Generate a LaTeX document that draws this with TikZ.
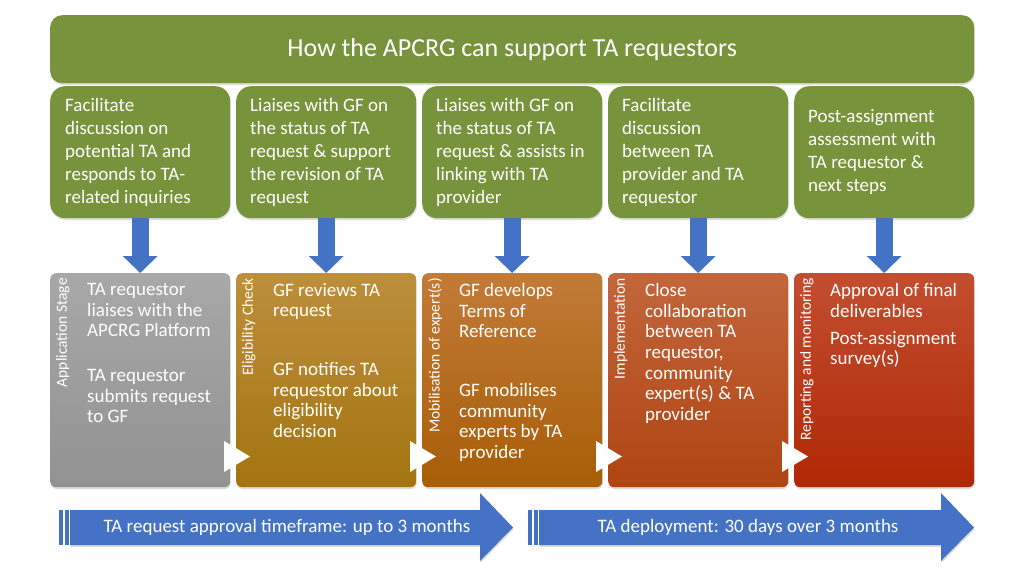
\documentclass[tikz,border=0pt]{standalone}
\usepackage{fontspec}
\setmainfont{Carlito}
\usetikzlibrary{arrows.meta,shadows,calc}
\definecolor{hdgreen}{HTML}{77933C}
\definecolor{arblue}{HTML}{4472C4}
\definecolor{grayT}{HTML}{A8A8A8}\definecolor{grayB}{HTML}{929292}
\definecolor{goldT}{HTML}{BE8F3C}\definecolor{goldB}{HTML}{A37410}
\definecolor{orT}{HTML}{C27B38}\definecolor{orB}{HTML}{A85D06}
\definecolor{roT}{HTML}{C2663C}\definecolor{roB}{HTML}{B04412}
\definecolor{rdT}{HTML}{C24E30}\definecolor{rdB}{HTML}{B02806}
\begin{document}
\begin{tikzpicture}[x=1pt,y=-1pt,
  softshadow/.style={drop shadow={shadow xshift=0.6pt,shadow yshift=-1.8pt,opacity=0.28}},
  header/.style={fill=hdgreen,rounded corners=12pt,softshadow,minimum width=924pt,minimum height=68pt,inner sep=0pt,anchor=north west},
  greenbox/.style={fill=hdgreen,rounded corners=15pt,softshadow,minimum width=180pt,minimum height=132pt,inner sep=0pt,anchor=north west},
  gtext/.style={text=white,font=\fontsize{19}{23}\selectfont,align=left,inner sep=0pt,anchor=west},
  stagebox/.style={rounded corners=6pt,softshadow,minimum width=180pt,minimum height=214pt,inner sep=0pt,anchor=north west},
  btext/.style={text=white,font=\fontsize{19}{20.7}\selectfont,align=left,inner sep=0pt,anchor=north west},
  vlabel/.style={text=white,font=\fontsize{15.5}{17}\selectfont,rotate=90,inner sep=0pt,anchor=north east},
  downarrow/.style={draw=arblue,line width=17pt,-{Triangle[width=34pt,length=17pt]}},
  bigarrow/.style={fill=arblue,softshadow},
  atext/.style={text=white,font=\fontsize{19}{22}\selectfont,inner sep=0pt}
]
\useasboundingbox (0,0) rectangle (1024,576);

% header
\node[header] (hd) at (50,15) {};
\node[text=white,font=\fontsize{26}{30}\selectfont,inner sep=0pt] (hdt) at (hd.center) {How the APCRG can support TA requestors};

% green boxes
\node[greenbox] (g1) at (50,86) {};
\node[greenbox] (g2) at (236,86) {};
\node[greenbox] (g3) at (422,86) {};
\node[greenbox] (g4) at (608,86) {};
\node[greenbox] (g5) at (794,86) {};
\node[gtext] (gt1) at ($(g1.west)+(15,0)$) {Facilitate\\discussion on\\potential TA and\\responds to TA-\\related inquiries};
\node[gtext] (gt2) at ($(g2.west)+(14,0)$) {Liaises with GF on\\the status of TA\\request \& support\\the revision of TA\\request};
\node[gtext] (gt3) at ($(g3.west)+(14,0)$) {Liaises with GF on\\the status of TA\\request \& assists in\\linking with TA\\provider};
\node[gtext] (gt4) at ($(g4.west)+(14,0)$) {Facilitate\\discussion\\between TA\\provider and TA\\requestor};
\node[gtext] (gt5) at ($(g5.west)+(14,0)$) {Post-assignment\\assessment with\\TA requestor \&\\next steps};

% stage boxes
\node[stagebox,top color=grayT,bottom color=grayB] (b1) at (50,273) {};
\node[stagebox,top color=goldT,bottom color=goldB] (b2) at (236,273) {};
\node[stagebox,top color=orT,bottom color=orB] (b3) at (422,273) {};
\node[stagebox,top color=roT,bottom color=roB] (b4) at (608,273) {};
\node[stagebox,top color=rdT,bottom color=rdB] (b5) at (794,273) {};

% down arrows
\draw[downarrow] (g1.south) -- (b1.north);
\draw[downarrow] (g2.south) -- (b2.north);
\draw[downarrow] (g3.south) -- (b3.north);
\draw[downarrow] (g4.south) -- (b4.north);
\draw[downarrow] (g5.south) -- (b5.north);

% vertical labels
\node[vlabel] (v1) at (56,278) {Application Stage};
\node[vlabel] (v2) at (242,278) {Eligibility Check};
\node[vlabel] (v3) at (428,278) {Mobilisation of expert(s)};
\node[vlabel] (v4) at (614,278) {Implementation};
\node[vlabel] (v5) at (800,278) {Reporting and monitoring};

% stage texts
\node[btext] (t1a) at (87,283) {TA requestor\\liaises with the\\APCRG Platform};
\node[btext] (t1b) at (87,369) {TA requestor\\submits request\\to GF};
\node[btext] (t2a) at (273,283) {GF reviews TA\\request};
\node[btext] (t2b) at (273,362) {GF notifies TA\\requestor about\\eligibility\\decision};
\node[btext] (t3a) at (459,283) {GF develops\\Terms of\\Reference};
\node[btext] (t3b) at (459,383) {GF mobilises\\community\\experts by TA\\provider};
\node[btext] (t4a) at (645,283) {Close\\collaboration\\between TA\\requestor,\\community\\expert(s) \& TA\\provider};
\node[btext] (t5a) at (830,283) {Approval of final\\deliverables};
\node[btext] (t5b) at (830,331) {Post-assignment\\survey(s)};

% white triangles
\foreach \r in {230,416,602,788}{
  \fill[white] (\r-6,441) -- (\r-6,472) -- (\r+20,456.5) -- cycle;
}

% bottom arrows
\fill[bigarrow] (70,510) -- (480,510) -- (480,493) -- (513,527.5) -- (480,561) -- (480,545) -- (70,545) -- cycle;
\fill[arblue] (59,510) rectangle (62.5,545);
\fill[arblue] (64.5,510) rectangle (68.5,545);
\node[atext] (a1) at (287,527.5) {TA request approval timeframe: up to 3 months};

\fill[bigarrow] (539,510) -- (941,510) -- (941,493) -- (974,527.5) -- (941,561) -- (941,545) -- (539,545) -- cycle;
\fill[arblue] (528,510) rectangle (531.5,545);
\fill[arblue] (533.5,510) rectangle (537.5,545);
\node[atext] (a2) at (748,527.5) {TA deployment: 30 days over 3 months};
\end{tikzpicture}
\end{document}
